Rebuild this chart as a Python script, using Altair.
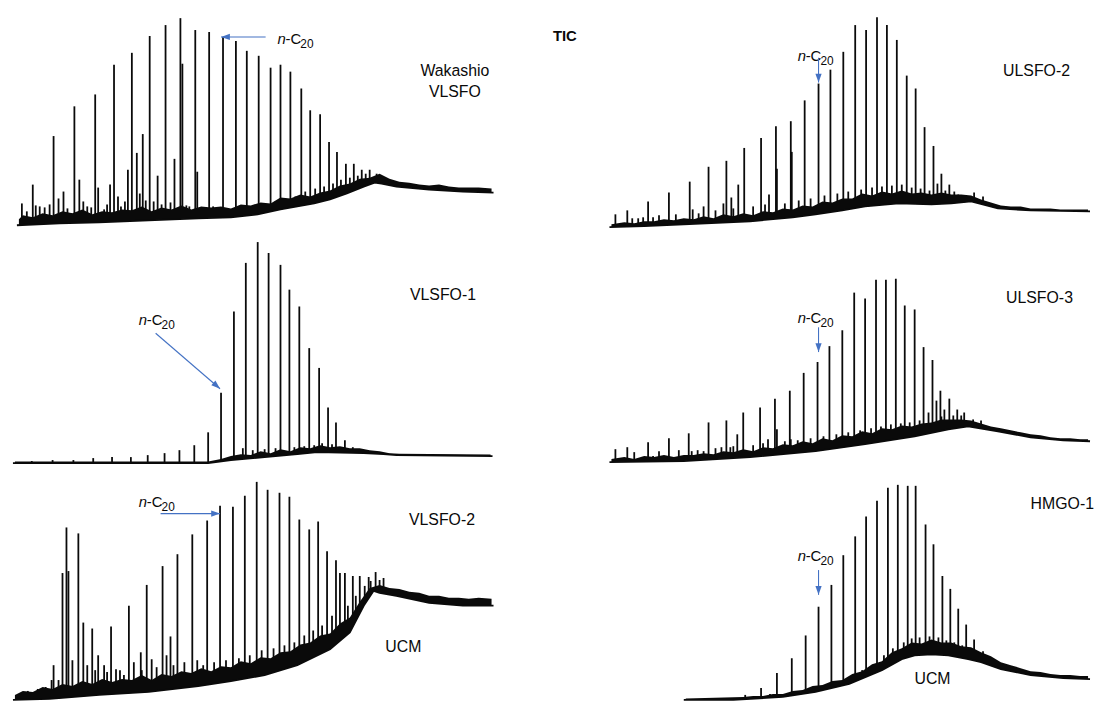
import altair as alt
import pandas as pd

# ---------------- data (retention time t in min, abundance in arbitrary units) ----------------
# Panel 1: Wakashio VLSFO
P1_PEAK_T = [0.9, 1.4, 2.0, 2.3, 2.7, 3.2, 3.7, 4.1, 4.6, 5.1, 5.5, 5.9, 6.2, 6.7, 7.1, 7.5, 7.9, 8.3,
             8.6, 9.2, 9.5, 9.8, 10.2, 10.6, 10.9, 11.3, 11.6, 12.0, 12.5, 12.8, 13.1, 13.4, 13.8, 14.2,
             14.6, 15.0, 15.4, 15.9, 16.3, 16.9, 17.1, 17.5, 17.8, 18.4, 18.6, 19.0, 19.2, 19.8, 20.2,
             20.5, 21.2, 21.9, 22.5, 23.1, 23.6, 24.2, 24.8, 25.3, 26.0, 26.5, 27.0, 27.5, 28.0, 28.5,
             29.1, 29.5, 30.0, 30.5, 31.0, 31.4, 31.9, 32.3, 32.7, 33.1, 33.6, 34.0, 34.4, 34.8, 35.2,
             35.6, 36.0, 36.7, 37.1]
P1_PEAK_H = [41, 33, 60, 39, 38, 37, 40, 109, 46, 53, 36, 31, 139, 65, 43, 38, 37, 151,
             57, 35, 40, 60, 181, 48, 38, 43, 75, 193, 92, 51, 111, 44, 210, 43,
             69, 40, 221, 42, 86, 228, 182, 39, 38, 216, 73, 37, 36, 214, 38,
             35, 209, 35, 205, 37, 195, 38, 190, 40, 178, 43, 181, 44, 174, 48,
             157, 53, 135, 56, 131, 58, 103, 61, 93, 65, 81, 67, 81, 69, 75,
             71, 75, 71, 69]
P1_BASE_T = [0.4, 4.7, 8.7, 13.7, 18.7, 22.0, 24.7, 27.0, 28.7, 30.4, 32.0, 33.7, 35.4, 36.5, 37.2, 38.7, 42.0, 45.4, 48.5]
P1_BASE_LO = [19, 21, 22, 24, 26, 27, 30, 35, 38, 41, 45, 51, 58, 62, 61, 58, 55, 53, 52]
P1_NOISE_T = [0.6, 1, 2, 3, 4, 5, 6, 7, 8, 9, 10, 11, 12, 13, 14, 15, 16, 17, 18, 19, 20, 21, 22, 23, 24,
              25, 26, 27, 28, 29, 30, 31, 32, 33, 34, 35, 36, 37, 38, 39, 40, 41, 42, 43, 44, 45, 46, 47, 48.3]
P1_NOISE_H = [25, 29, 27, 31, 29, 33, 31, 35, 30, 33, 32, 35, 34, 38, 33, 37, 35, 39, 35, 38, 37, 38, 36, 40, 39,
              42, 41, 47, 46, 50, 48, 52, 54, 59, 61, 66, 67, 71, 66, 63, 62, 60, 59, 60, 58, 57, 57, 57, 56]

# Panel 2: VLSFO-1
P2_PEAK_T = [1.9, 4.0, 6.1, 8.1, 10.0, 11.9, 13.6, 15.3, 16.8, 18.3, 19.7, 21.0, 22.3, 23.2, 23.5, 24.2,
             24.7, 25.4, 25.8, 26.5, 27.0, 27.9, 28.4, 28.9, 29.4, 29.9, 30.4, 30.9, 31.2, 31.8, 32.2,
             32.6, 33.0, 33.5, 34.3, 35.0, 36.0, 37.5]
P2_PEAK_H = [11, 12, 12, 14, 15, 15, 17, 19, 22, 27, 40, 80, 162, 24, 211, 22,
             232, 23, 221, 24, 209, 184, 25, 167, 26, 125, 27, 105, 29, 65, 28,
             50, 24, 32, 25, 21, 20, 19]
P2_BASE_T = [0.0, 19.7, 22.0, 25.4, 28.7, 30.7, 35.4, 37.4, 38.7, 48.4]
P2_BASE_LO = [9, 9, 12, 15, 18, 20, 19, 18, 17, 16]
P2_NOISE_T = [0.2, 19.7, 21, 22, 23, 24, 25, 26, 27, 28, 29, 30, 31, 32, 33, 34, 35, 36, 37, 38, 39, 48.2]
P2_NOISE_H = [10.5, 10.5, 13, 16, 18, 17, 21, 19, 23, 21, 25, 24, 27, 25, 26, 24, 24, 22, 21, 19, 18.5, 17.5]

# Panel 3: VLSFO-2
P3_PEAK_T = [1.5, 2.5, 3.3, 3.9, 4.1, 4.6, 5.0, 5.4, 5.6, 6.0, 6.6, 7.1, 7.5, 8.0, 8.3, 8.6, 9.2, 9.5,
             9.9, 10.4, 10.8, 11.2, 11.7, 12.2, 12.9, 13.0, 13.5, 14.0, 14.5, 15.1, 15.5, 15.9, 16.2,
             16.6, 17.3, 18.1, 18.6, 19.2, 19.6, 20.3, 20.9, 21.5, 22.2, 22.8, 23.4, 23.9, 24.6, 25.1,
             25.7, 26.3, 26.9, 27.4, 27.9, 28.4, 28.9, 29.4, 29.9, 30.3, 30.8, 31.2, 31.7, 32.2, 32.6,
             33.0, 33.5, 33.8, 34.3, 34.6, 35.0, 35.5, 35.9, 36.1, 36.6, 37.0, 37.4]
P3_PEAK_H = [9, 11, 13, 20, 35, 20, 128, 174, 130, 40, 168, 78, 35, 72, 30, 45, 35, 28,
             74, 31, 30, 25, 95, 38, 48, 30, 116, 41, 33, 135, 45, 64, 35,
             147, 38, 167, 40, 35, 181, 38, 196, 40, 195, 42, 206, 45, 220, 50,
             212, 52, 209, 55, 205, 58, 182, 65, 172, 70, 180, 75, 150, 85, 141,
             128, 128, 95, 125, 105, 125, 115, 124, 120, 129, 121, 123]
P3_BASE_T = [0.0, 3.7, 8.7, 13.7, 18.7, 22.0, 25.4, 28.7, 32.0, 34.0, 35.4, 36.4, 37.0, 38.7, 42.0, 45.4, 48.5]
P3_BASE_LO = [0, 1, 5, 8, 14, 19, 25, 35, 51, 68, 95, 110, 108, 105, 98, 95, 95]
P3_NOISE_T = [0.2, 1, 2, 3, 4, 5, 6, 7, 8, 9, 10, 11, 12, 13, 14, 15, 16, 17, 18, 19, 20, 21, 22, 23, 24,
              25, 26, 27, 28, 29, 30, 31, 32, 33, 34, 35, 36, 37, 38, 39, 40, 41, 42, 43, 44, 45, 46, 47, 48.3]
P3_NOISE_H = [5, 9, 8, 13, 11, 16, 14, 19, 16, 21, 18, 21, 20, 25, 20, 26, 24, 29, 27, 32, 29, 34, 33, 39, 37,
              43, 42, 48, 49, 56, 58, 65, 67, 77, 83, 99, 113, 116, 113, 112, 109, 108, 105, 105, 103, 103, 102, 103, 102]

# Panel 4: ULSFO-2
P4_PEAK_T = [1.1, 2.3, 2.8, 3.4, 3.9, 4.4, 4.9, 5.5, 6.5, 7.2, 8.6, 8.9, 9.5, 10.0, 10.5, 11.2, 12.0,
             12.3, 12.8, 13.0, 13.5, 14.1, 15.0, 15.8, 16.2, 16.6, 17.3, 17.4, 18.2, 18.8, 18.9, 19.6,
             20.2, 20.8, 21.6, 22.2, 22.8, 23.5, 24.1, 24.6, 25.3, 25.9, 26.4, 27.0, 27.5, 28.0, 28.5,
             29.0, 29.5, 30.0, 30.5, 31.0, 31.4, 31.9, 32.3, 32.8, 33.2, 33.6, 34.0, 34.4, 34.8, 35.3,
             35.7, 36.5, 37.3, 38.2]
P4_PEAK_H = [30, 34, 26, 26, 27, 43, 27, 29, 52, 30, 63, 35, 31, 38, 78, 34, 41,
             84, 47, 36, 60, 97, 38, 107, 40, 50, 119, 76, 41, 124, 93, 44,
             145, 46, 162, 49, 176, 51, 194, 53, 221, 55, 216, 57, 229, 58, 221,
             59, 206, 60, 170, 57, 157, 56, 118, 54, 99, 61, 71, 54, 60, 53,
             50, 46, 52, 48]
P4_BASE_T = [0.5, 4.0, 8.0, 14.7, 19.0, 21.3, 24.0, 26.3, 29.7, 33.0, 35.0, 37.0, 39.7, 43.0, 49.0]
P4_BASE_LO = [17, 18, 20, 23, 27, 30, 34, 38, 41, 40, 41, 43, 36, 34, 33]
P4_NOISE_T = [0.7, 2, 3, 4, 5, 6, 7, 8, 9, 10, 11, 12, 13, 14, 15, 16, 17, 18, 19, 20, 21, 22, 23, 24, 25,
              26, 27, 28, 29, 30, 31, 32, 33, 34, 35, 36, 37, 38, 39, 40, 41, 42, 43, 44, 45, 46, 47, 48, 48.8]
P4_NOISE_H = [20, 22, 21, 23, 23, 25, 24, 26, 25, 28, 26, 30, 28, 31, 29, 33, 32, 36, 35, 39, 38, 43, 42, 46, 46,
              51, 49, 53, 51, 54, 51, 52, 50, 52, 50, 50, 49, 45, 42, 39, 38, 38, 36, 36, 36, 35, 35, 35, 35]

# Panel 5: ULSFO-3
P5_PEAK_T = [1.1, 2.3, 3.0, 4.4, 4.9, 5.5, 6.5, 7.5, 8.5, 8.8, 9.4, 10.0, 10.5, 11.2, 11.8, 12.3, 12.7,
             13.0, 13.4, 14.0, 15.0, 15.7, 16.0, 16.5, 17.2, 17.4, 18.2, 18.7, 18.8, 19.5, 20.1, 20.8,
             21.5, 22.1, 22.7, 23.4, 24.0, 24.6, 25.2, 25.8, 26.3, 26.9, 27.4, 27.9, 28.4, 28.9, 29.4,
             29.9, 30.3, 30.8, 31.3, 31.8, 32.2, 32.7, 33.1, 33.5, 33.9, 34.0, 34.3, 34.8, 35.2, 35.6,
             36.0, 36.3, 37.2, 38.0]
P5_PEAK_H = [23, 25, 20, 30, 16, 21, 34, 22, 39, 21, 22, 21, 50, 24, 25, 52, 25,
             26, 38, 60, 27, 65, 29, 33, 74, 43, 31, 82, 33, 32, 100, 34,
             111, 36, 127, 38, 143, 40, 181, 42, 175, 44, 194, 46, 194, 48, 195,
             49, 168, 50, 164, 52, 126, 60, 113, 72, 82, 56, 63, 74, 57, 63,
             57, 60, 53, 52]
P5_BASE_T = [0.5, 8.0, 14.7, 21.3, 26.3, 31.3, 34.7, 36.7, 39.7, 43.0, 46.3, 49.0]
P5_BASE_LO = [10, 11, 15, 21, 28, 36, 43, 46, 41, 35, 32, 31]
P5_NOISE_T = [0.7, 2, 3, 4, 5, 6, 7, 8, 9, 10, 11, 12, 13, 14, 15, 16, 17, 18, 19, 20, 21, 22, 23, 24, 25,
              26, 27, 28, 29, 30, 31, 32, 33, 34, 35, 36, 37, 38, 39, 40, 41, 42, 43, 44, 45, 46, 47, 48, 48.8]
P5_NOISE_H = [13, 15, 13, 16, 15, 17, 15, 17, 17, 19, 18, 21, 20, 23, 21, 25, 24, 28, 27, 31, 29, 34, 32, 37, 36,
              41, 39, 44, 43, 47, 46, 49, 50, 53, 53, 53, 52, 49, 46, 44, 42, 40, 38, 37, 35, 34, 34, 33, 33]

# Panel 6: HMGO-1
P6_PEAK_T = [14.2, 15.1, 15.8, 16.7, 17.4, 18.9, 20.3, 21.6, 22.9, 24.1, 25.3, 26.0, 26.4, 27.0, 27.5,
             28.2, 28.6, 29.1, 29.6, 30.2, 30.6, 31.0, 31.4, 31.8, 32.4, 32.8, 33.2, 33.7, 34.1, 34.5,
             34.9, 35.3, 35.7, 36.1, 36.5, 37.0, 37.3, 37.8, 38.2, 38.6, 39.2, 40.3, 40.8, 42.0, 44.0, 46.0]
P6_PEAK_H = [5, 3, 12, 6, 27, 42, 65, 94, 116, 146, 165, 30, 185, 35, 201,
             45, 214, 52, 217, 58, 216, 62, 216, 63, 177, 64, 157, 63, 125, 60,
             112, 58, 92, 55, 76, 52, 61, 48, 49, 44, 40, 31, 33, 30, 27, 25]
P6_BASE_T = [8.0, 13.0, 18.0, 21.3, 24.7, 28.0, 30.0, 31.3, 33.0, 34.7, 36.7, 38.0, 40.0, 43.0, 46.3, 49.0]
P6_BASE_LO = [0, 0, 3, 8, 16, 30, 41, 45, 46, 45, 41, 38, 31, 25, 22, 21]
P6_NOISE_T = [8.2, 14, 15, 16, 17, 18, 19, 20, 21, 22, 23, 24, 25, 26, 27, 28, 29, 30, 31, 32, 33, 34, 35,
              36, 37, 38, 39, 40, 41, 42, 43, 44, 45, 46, 47, 48, 48.8]
P6_NOISE_H = [1.5, 3, 4, 4, 6, 6, 9, 10, 14, 15, 19, 20, 26, 29, 36, 39, 48, 52, 58, 57, 61, 58, 58,
              54, 53, 48, 44, 38, 35, 32, 29, 28, 26, 25, 25, 24, 24]

# Sample labels (text, t, abundance)
P1_LABELS = [("Wakashio", 44.6, 175), ("VLSFO", 44.6, 153)]
P2_LABELS = [("VLSFO-1", 43.4, 179)]
P3_LABELS = [("VLSFO-2", 43.3, 181), ("UCM", 39.4, 53)]
P4_LABELS = [("ULSFO-2", 43.6, 175)]
P5_LABELS = [("ULSFO-3", 43.9, 176)]
P6_LABELS = [("HMGO-1", 46.2, 198), ("UCM", 33.1, 21)]
TIC_LABEL = [("TIC", -4.0, 210)]

# n-C20 annotation: label anchor (t, y), arrow from (t1, y1) to (t2, y2), arrow direction (deg)
NC20 = {
    1: ((26.7, 207), (25.5, 209, 21.0, 209), 270),
    2: ((12.7, 153), (14.4, 140, 20.9, 84), 131),
    3: ((12.7, 200), (14.9, 188, 20.9, 188), 90),
    4: ((19.5, 190), (21.6, 188, 21.6, 163), 180),
    5: ((19.5, 155), (21.6, 146, 21.6, 121), 180),
    6: ((19.5, 145), (21.6, 131, 21.6, 106), 180),
}

# ---------------- chart ----------------
W, H = 490, 230
X_DOM = [-0.5, 48.5]
Y_DOM = [5, 235]
BLUE = "#4472C4"
FONT = "Liberation Sans"
INK = "#0a0a0a"
HEAD = "M0,0 L-0.6,1.7 L0.6,1.7 Z"


def xq(field):
    return alt.X(field, type="quantitative", scale=alt.Scale(domain=X_DOM), axis=None)


def yq(field):
    return alt.Y(field, type="quantitative", scale=alt.Scale(domain=Y_DOM), axis=None)


def panel(pt, ph, bt, blo, nt, nh, labels, key, extra=None):
    peaks = pd.DataFrame({"t": pt, "h": ph, "z": [0] * len(pt)})
    base = pd.DataFrame({"t": bt, "lo": blo, "zm": [-8] * len(bt)})
    noise = pd.DataFrame({"t": nt, "h": nh, "z": [0] * len(nt)})
    lab = pd.DataFrame(labels, columns=["label", "t", "y"])
    (lt, ly), (x1, y1, x2, y2), ang = NC20[key]
    nc = pd.DataFrame({"t": [lt], "y": [ly]})
    arr = pd.DataFrame({"t": [x1], "y": [y1], "t2": [x2], "y2": [y2]})

    rules = alt.Chart(peaks).mark_rule(color=INK, strokeWidth=1.8).encode(
        x=xq("t"), y=yq("h"), y2="z")
    band = alt.Chart(noise).mark_area(color=INK).encode(
        x=xq("t"), y=yq("h"), y2="z")
    mask = alt.Chart(base).mark_area(color="white").encode(
        x=xq("t"), y=yq("lo"), y2="zm")
    line = alt.Chart(base).mark_line(color=INK, strokeWidth=1.8).encode(
        x=xq("t"), y=yq("lo"))
    texts = alt.Chart(lab).mark_text(font=FONT, fontSize=16, color=INK, align="center",
                                     baseline="middle").encode(
        x=xq("t"), y=yq("y"), text="label:N")
    n_it = alt.Chart(nc).mark_text(text="n", font=FONT, fontSize=15, fontStyle="italic",
                                   color=INK, align="left", baseline="middle").encode(
        x=xq("t"), y=yq("y"))
    n_c = alt.Chart(nc).mark_text(text="-C", font=FONT, fontSize=15, color=INK, align="left",
                                  baseline="middle", dx=8).encode(x=xq("t"), y=yq("y"))
    n_sub = alt.Chart(nc).mark_text(text="20", font=FONT, fontSize=12, color=INK, align="left",
                                    baseline="middle", dx=23, dy=5).encode(x=xq("t"), y=yq("y"))
    shaft = alt.Chart(arr).mark_rule(color=BLUE, strokeWidth=1.1).encode(
        x=xq("t"), y=yq("y"), x2="t2", y2="y2")
    head = alt.Chart(arr).mark_point(shape=HEAD, filled=True, color=BLUE, opacity=1,
                                     size=110, angle=ang).encode(x=xq("t2"), y=yq("y2"))
    layers = [rules, band, mask, line, texts, n_it, n_c, n_sub, shaft, head]
    if extra is not None:
        tic = pd.DataFrame(extra, columns=["label", "t", "y"])
        layers.append(alt.Chart(tic).mark_text(font=FONT, fontSize=15, fontWeight="bold",
                                               color=INK, align="center", baseline="middle").encode(
            x=xq("t"), y=yq("y"), text="label:N"))
    return alt.layer(*layers).properties(width=W, height=H)


p1 = panel(P1_PEAK_T, P1_PEAK_H, P1_BASE_T, P1_BASE_LO, P1_NOISE_T, P1_NOISE_H, P1_LABELS, 1)
p2 = panel(P2_PEAK_T, P2_PEAK_H, P2_BASE_T, P2_BASE_LO, P2_NOISE_T, P2_NOISE_H, P2_LABELS, 2)
p3 = panel(P3_PEAK_T, P3_PEAK_H, P3_BASE_T, P3_BASE_LO, P3_NOISE_T, P3_NOISE_H, P3_LABELS, 3)
p4 = panel(P4_PEAK_T, P4_PEAK_H, P4_BASE_T, P4_BASE_LO, P4_NOISE_T, P4_NOISE_H, P4_LABELS, 4,
           extra=TIC_LABEL)
p5 = panel(P5_PEAK_T, P5_PEAK_H, P5_BASE_T, P5_BASE_LO, P5_NOISE_T, P5_NOISE_H, P5_LABELS, 5)
p6 = panel(P6_PEAK_T, P6_PEAK_H, P6_BASE_T, P6_BASE_LO, P6_NOISE_T, P6_NOISE_H, P6_LABELS, 6)

chart = alt.concat(p1, p4, p2, p5, p3, p6, columns=2,
                   spacing={"row": 0, "column": 107}, bounds="flush").properties(
    padding=0, background="white"
).configure_view(strokeWidth=0)

chart.save("out.html", embed_options={"renderer": "svg", "actions": False})
